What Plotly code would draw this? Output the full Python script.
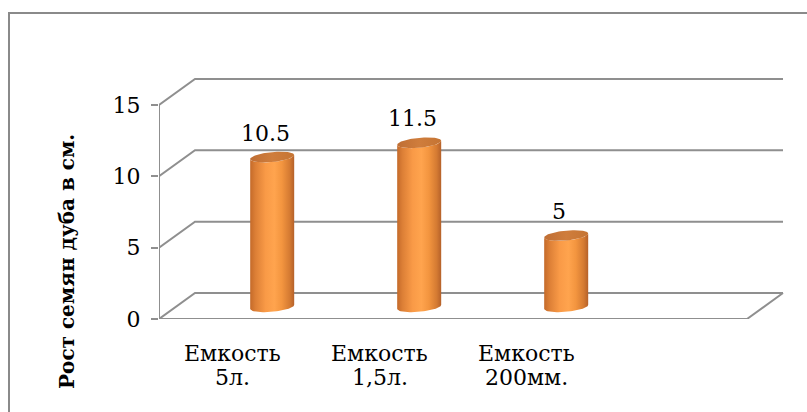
import numpy as np
import plotly.graph_objects as go

# ---- data ----
categories_line1 = ["Емкость", "Емкость", "Емкость"]
categories_line2 = ["5л.", "1,5л.", "200мм."]
values = [10.5, 11.5, 5]
y_ticks = [0, 5, 10, 15]
y_title = "Рост семян дуба в см."

# ---- geometry (layout) ----
W, H = 807, 412
ML, MR, MT, MB = 159, 10, 40, 93
PW, PH = W - ML - MR, H - MT - MB
X0 = -0.5
PX_PER_X = 147.0
PX_PER_Y = 14.27
XR = [X0, X0 + PW / PX_PER_X]
YR = [0, PH / PX_PER_Y]
DX = 36 / PX_PER_X
DY = 26 / PX_PER_Y
N_SLOTS = 4
X_END = X0 + N_SLOTS
BAR_SHIFT = 0.27
BAR_HALF = 22 / PX_PER_X
DEPTH_V = 0.85
ELL_B = 5 / PX_PER_Y
TILT = 2 / PX_PER_Y

GRID = "#8f8f8f"
FONT = "DejaVu Serif"

def px2paper_x(px):
    return (px - ML) / PW

def px2paper_y(py):
    return (H - MB - py) / PH

fig = go.Figure()

for v in y_ticks:
    xs = [X0, X0 + DX, X_END + DX]
    ys = [v, v + DY, v + DY]
    fig.add_trace(go.Scatter(x=xs, y=ys, mode="lines",
                             line=dict(color=GRID, width=2),
                             hoverinfo="skip", showlegend=False))
fig.add_trace(go.Scatter(x=[X0, X_END, X_END + DX], y=[0, 0, DY], mode="lines",
                         line=dict(color=GRID, width=2),
                         hoverinfo="skip", showlegend=False))
fig.add_trace(go.Scatter(x=[X0, X0], y=[0, max(y_ticks)], mode="lines",
                         line=dict(color=GRID, width=2),
                         hoverinfo="skip", showlegend=False))

scale = [[0.0, "#c46a2a"], [0.12, "#dc7f36"], [0.35, "#f99a47"],
         [0.55, "#ffa44e"], [0.72, "#f3953f"], [0.9, "#d47a32"], [1.0, "#b5612a"]]
th_low = np.linspace(np.pi, 2 * np.pi, 40)
th_all = np.linspace(0, 2 * np.pi, 80)
for i, v in enumerate(values):
    cx = i + BAR_SHIFT
    base = DEPTH_V
    top = v + DEPTH_V
    tx = cx + BAR_HALF * np.cos(th_low)
    ty = top + ELL_B * np.sin(th_low) + TILT * np.cos(th_low)
    bx = (cx + BAR_HALF * np.cos(th_low))[::-1]
    by = (base + ELL_B * np.sin(th_low) + TILT * np.cos(th_low))[::-1]
    xs = np.concatenate([tx, bx, tx[:1]])
    ys = np.concatenate([ty, by, ty[:1]])
    fig.add_trace(go.Scatter(x=xs, y=ys, mode="lines", fill="toself",
                             line=dict(width=0, color="rgba(0,0,0,0)"),
                             fillgradient=dict(type="horizontal", colorscale=scale),
                             hoverinfo="skip", showlegend=False))
    ex = cx + BAR_HALF * np.cos(th_all)
    ey = top + ELL_B * np.sin(th_all) + TILT * np.cos(th_all)
    fig.add_trace(go.Scatter(x=ex, y=ey, mode="lines", fill="toself",
                             line=dict(width=0, color="rgba(0,0,0,0)"),
                             fillgradient=dict(type="horizontal",
                                               colorscale=[[0, "#bf6e34"], [0.5, "#cf7d3c"], [1, "#c57433"]]),
                             hoverinfo="skip", showlegend=False))

annotations = []
for i, v in enumerate(values):
    annotations.append(dict(x=i + BAR_SHIFT, y=v + DEPTH_V, xref="x", yref="y",
                            text=f"{v:g}", showarrow=False, xshift=-7, yshift=24,
                            yanchor="middle", font=dict(family=FONT, size=22, color="black")))
for i, (l1, l2) in enumerate(zip(categories_line1, categories_line2)):
    annotations.append(dict(x=i, y=0, xref="x", yref="y", text=l1, showarrow=False,
                            yshift=-34, yanchor="middle",
                            font=dict(family=FONT, size=22, color="black")))
    annotations.append(dict(x=i, y=0, xref="x", yref="y", text=l2, showarrow=False,
                            yshift=-58, yanchor="middle",
                            font=dict(family=FONT, size=22, color="black")))
annotations.append(dict(x=px2paper_x(67), y=px2paper_y(262), xref="paper", yref="paper",
                        text=f"<b>{y_title}</b>", textangle=-90, showarrow=False,
                        xanchor="center", yanchor="middle",
                        font=dict(family=FONT, size=20, color="black")))

fl, ft = px2paper_x(9), px2paper_y(13)
fr, fb = px2paper_x(W + 5), px2paper_y(H + 5)
shapes = [dict(type="path", xref="paper", yref="paper",
               path=f"M {fl} {fb} L {fl} {ft} L {fr} {ft}",
               line=dict(color="#8a8a8a", width=2))]

fig.update_layout(
    width=W, height=H,
    margin=dict(l=ML, r=MR, t=MT, b=MB, pad=0),
    paper_bgcolor="white", plot_bgcolor="white",
    font=dict(family=FONT, size=22, color="black"),
    xaxis=dict(range=XR, showgrid=False, zeroline=False, showline=False,
               showticklabels=False, ticks="", fixedrange=True),
    yaxis=dict(range=YR, tickvals=y_ticks, ticktext=[str(t) for t in y_ticks],
               showgrid=False, zeroline=False, showline=False,
               ticks="outside", ticklen=7, tickwidth=2, tickcolor=GRID,
               tickfont=dict(family=FONT, size=22, color="black"),
               ticklabelstandoff=6, fixedrange=True),
    annotations=annotations,
    shapes=shapes,
    showlegend=False,
)

fig.write_html("out.html")
